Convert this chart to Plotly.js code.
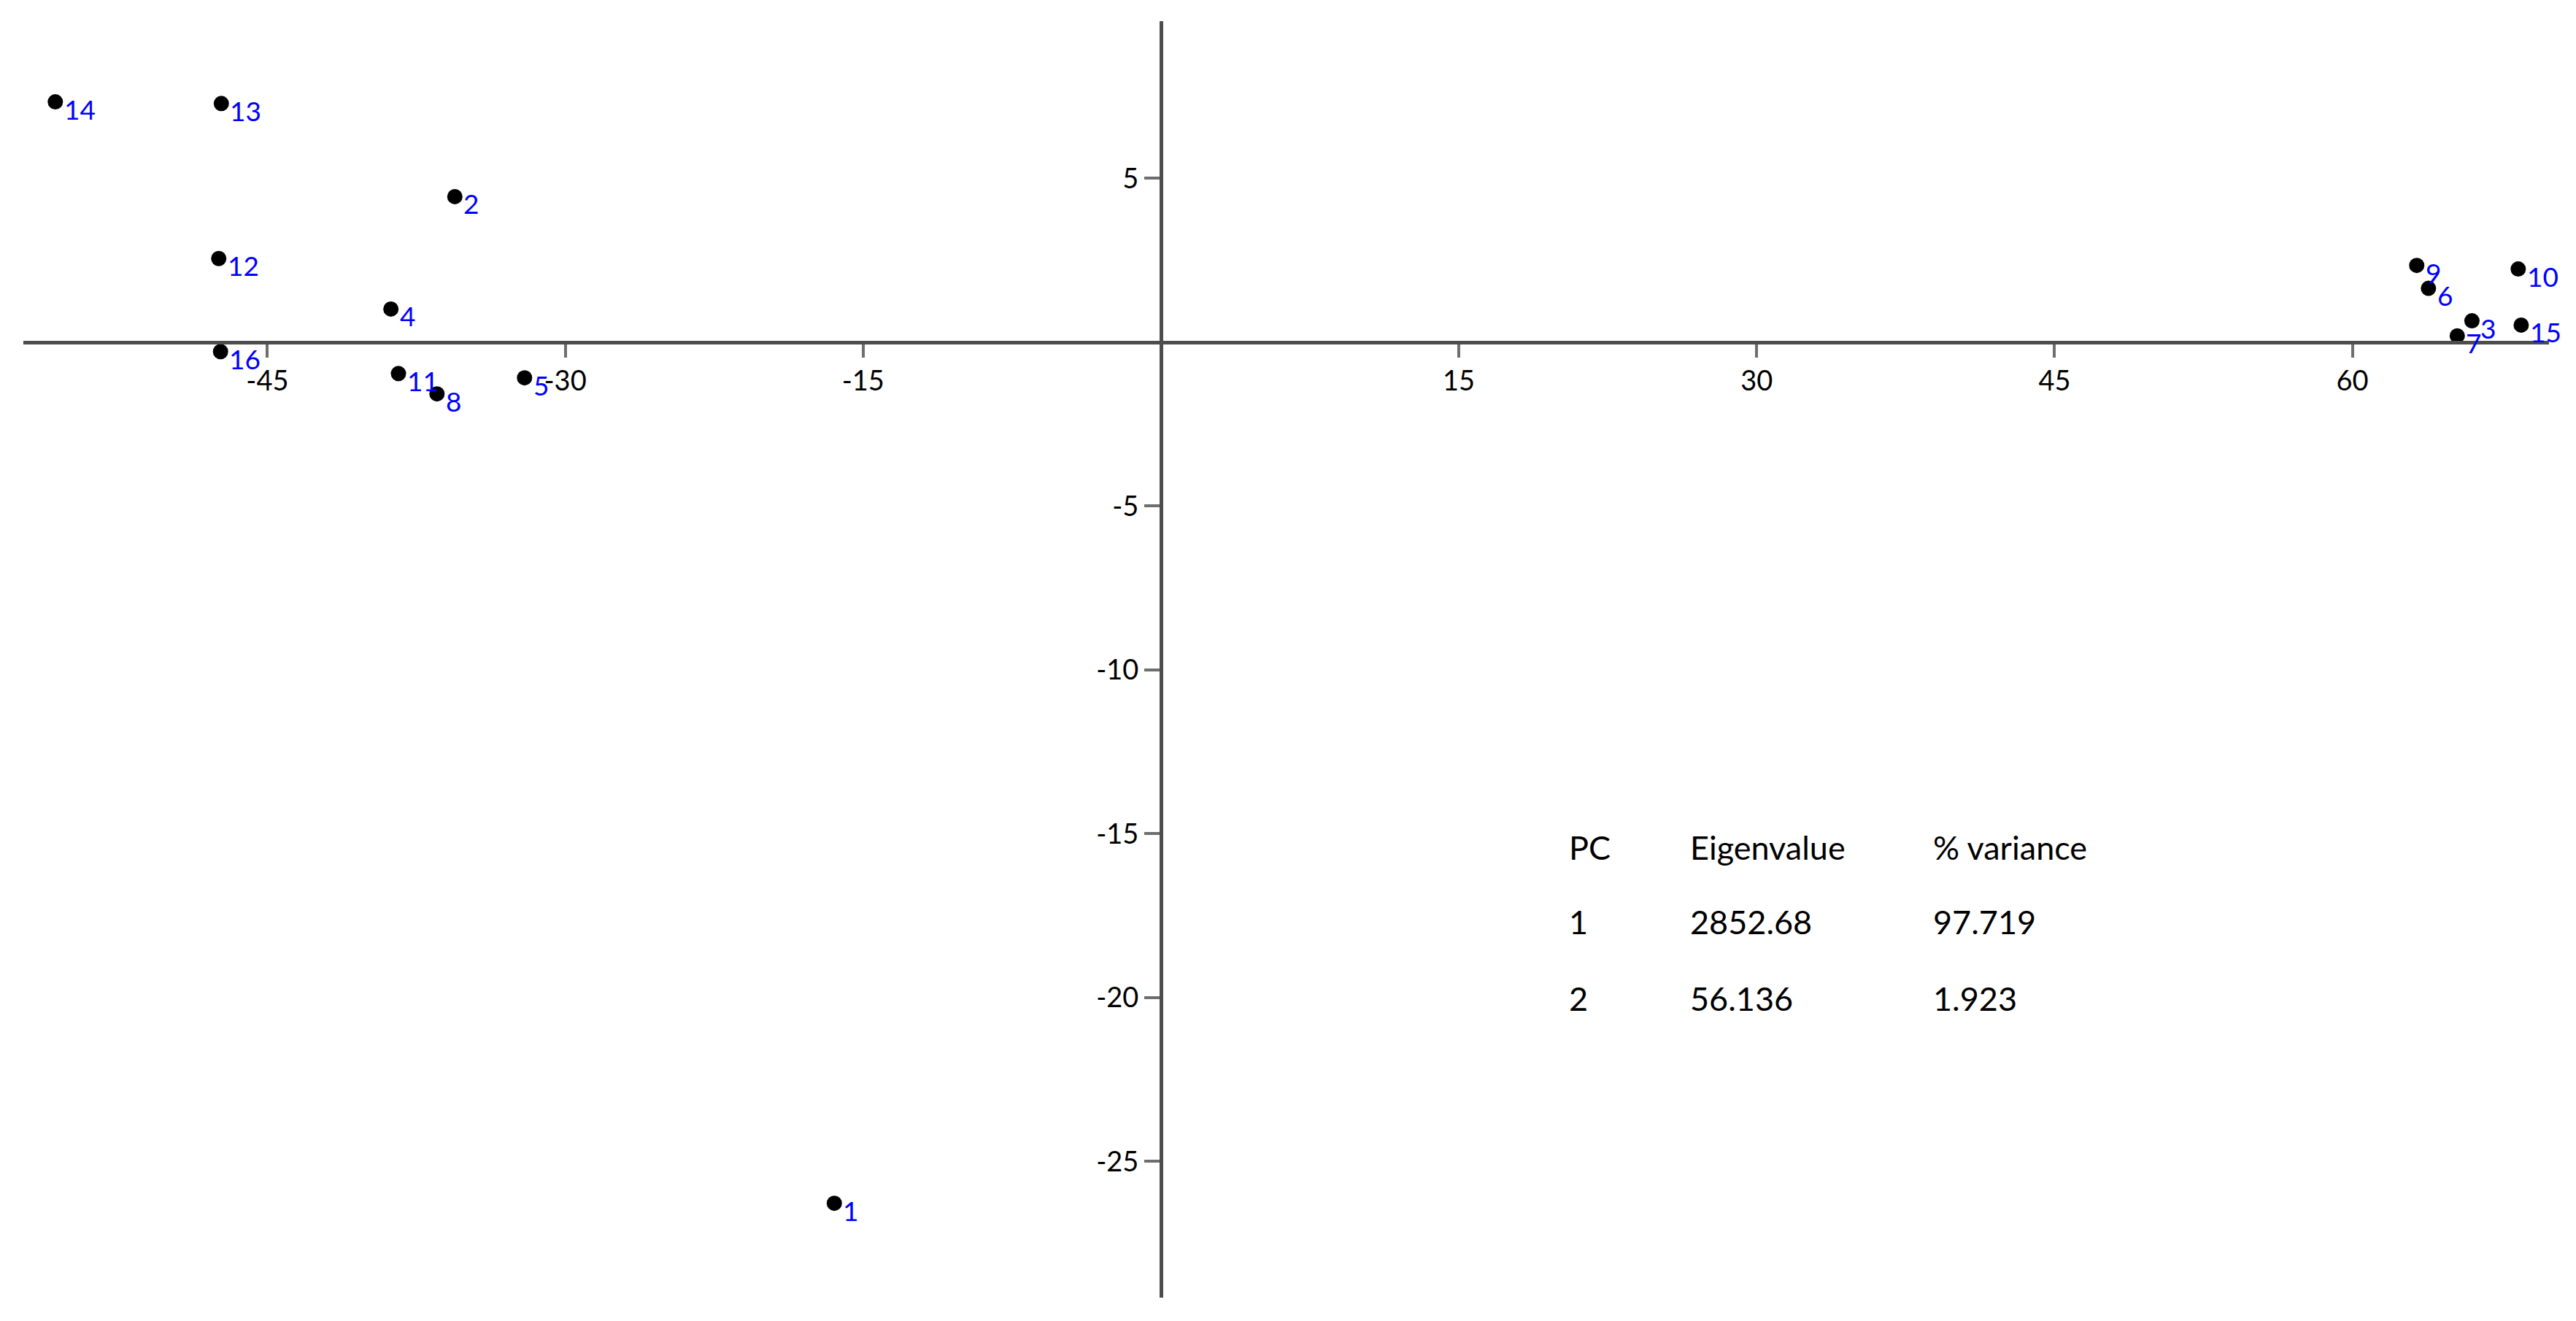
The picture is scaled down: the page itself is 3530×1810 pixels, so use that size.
<!DOCTYPE html>
<html>
<head>
<meta charset="utf-8">
<script src="https://cdn.plot.ly/plotly-3.0.1.min.js"></script>
<style>
html,body{margin:0;padding:0;background:#ffffff;overflow:hidden}
#chart{width:3530px;height:1810px}
#topmask{position:absolute;left:0;top:0;width:3530px;height:29px;background:#ffffff;z-index:5}
</style>
</head>
<body>
<div id="chart"></div>
<div id="topmask"></div>
<script>
// ---- data (PCA scores) ----
const sampleLabels = ['1','2','3','4','5','6','7','8','9','10','11','12','13','14','15','16'];
const pc1Scores = [-16.45, -35.56, 66.02, -38.78, -32.05, 63.83, 65.28, -36.46, 63.24, 68.35, -38.40, -47.45, -47.32, -55.68, 68.50, -47.36];
const pc2Scores = [-26.28, 4.44, 0.65, 1.01, -1.09, 1.64, 0.19, -1.58, 2.34, 2.23, -0.96, 2.55, 7.28, 7.33, 0.52, -0.29];

const xTickValues = [-45, -30, -15, 15, 30, 45, 60];
const yTickValues = [10, 5, -5, -10, -15, -20, -25];

const tableHeader = ['PC', 'Eigenvalue', '% variance'];
const pcNumbers = ['1', '2'];
const eigenvalues = ['2852.68', '56.136'];
const variancePercent = ['97.719', '1.923'];

// ---- layout geometry ----
const W = 3530, H = 1810;
const margin = {l: 32, r: 37, t: 2, b: 32};
const xRange = [-57.29, 69.90];
const yRange = [-29.16, 10.395];
const plotW = W - margin.l - margin.r;
const plotH = H - margin.t - margin.b;
const pxToPaperX = px => (px - margin.l) / plotW;
const pxToPaperY = py => (H - margin.b - py) / plotH;

const labelFont = {family: 'Lato, "Open Sans", sans-serif', size: 37, color: '#0000ff'};
const tickFont = {family: 'Lato, "Open Sans", sans-serif', size: 38, color: '#000000'};
const tableFont = {family: 'Lato, "Open Sans", sans-serif', size: 45, color: '#000000'};

const trace = {
  type: 'scatter',
  mode: 'markers',
  x: pc1Scores,
  y: pc2Scores,
  marker: {size: 21, color: '#000000', line: {width: 0}},
  hoverinfo: 'skip',
  cliponaxis: false
};

const annotations = [];
sampleLabels.forEach((lab, i) => {
  annotations.push({
    x: pc1Scores[i], y: pc2Scores[i], xref: 'x', yref: 'y',
    text: lab, showarrow: false, xanchor: 'left', yanchor: 'top',
    xshift: 10, yshift: 15, font: labelFont
  });
});

// table text
const colX = [2148, 2314, 2647].map(pxToPaperX);
const rowY = [1161, 1263, 1368].map(pxToPaperY);
tableHeader.forEach((t, j) => {
  annotations.push({x: colX[j], y: rowY[0], xref: 'paper', yref: 'paper', text: t,
    showarrow: false, xanchor: 'left', yanchor: 'middle', font: tableFont});
});
pcNumbers.forEach((p, i) => {
  const rowVals = [p, eigenvalues[i], variancePercent[i]];
  rowVals.forEach((t, j) => {
    annotations.push({x: colX[j], y: rowY[i + 1], xref: 'paper', yref: 'paper', text: t,
      showarrow: false, xanchor: 'left', yanchor: 'middle', font: tableFont});
  });
});

const layout = {
  width: W, height: H,
  margin: {l: margin.l, r: margin.r, t: margin.t, b: margin.b, pad: 0},
  paper_bgcolor: '#ffffff', plot_bgcolor: '#ffffff',
  showlegend: false,
  font: tickFont,
  xaxis: {
    range: xRange, anchor: 'free',
    position: (0 - yRange[0]) / (yRange[1] - yRange[0]),
    showline: true, linecolor: '#4d4d4d', linewidth: 5,
    ticks: 'outside', ticklen: 18, tickwidth: 4, tickcolor: '#6e6e6e',
    tickvals: xTickValues, ticktext: xTickValues.map(v => String(v)),
    tickfont: tickFont, showgrid: false, zeroline: false, automargin: false,
    fixedrange: true
  },
  yaxis: {
    range: yRange, anchor: 'free',
    position: (0 - xRange[0]) / (xRange[1] - xRange[0]),
    showline: true, linecolor: '#4d4d4d', linewidth: 5,
    ticks: 'outside', ticklen: 21, tickwidth: 4, tickcolor: '#6e6e6e',
    tickvals: yTickValues, ticktext: yTickValues.map(v => String(v)),
    tickfont: tickFont, showgrid: false, zeroline: false, automargin: false,
    fixedrange: true
  },
  annotations: annotations
};

Plotly.newPlot('chart', [trace], layout, {staticPlot: true, displayModeBar: false});
</script>
</body>
</html>
